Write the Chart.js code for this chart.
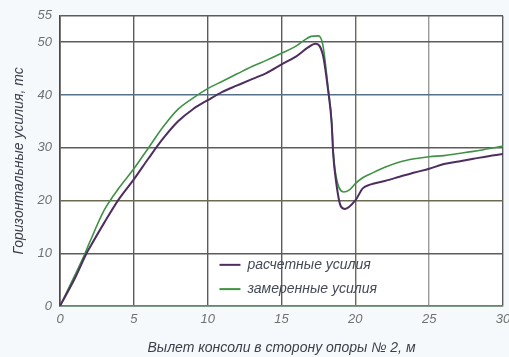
<!DOCTYPE html>
<html>
<head>
<meta charset="utf-8">
<script src="https://cdn.jsdelivr.net/npm/chart.js@4.4.1/dist/chart.umd.min.js"></script>
<style>
  html, body { margin: 0; padding: 0; background: #f6f9fb; }
  canvas { display: block; }
</style>
</head>
<body>
<canvas id="chart" width="509" height="357"></canvas>
<script>
// расчетные усилия
const xCalc = [0, 1, 1.8, 2, 3, 4, 5, 6, 7, 8, 9, 10, 11, 12, 13, 14, 15, 16, 16.8, 17.3, 17.8, 18.15, 18.4, 18.5, 18.7, 19, 19.3, 20, 20.5, 21, 22, 23, 24, 25, 26, 27, 28, 29, 30];
const yCalc = [0, 5.2, 10, 11, 15.8, 20.3, 24, 28, 31.8, 35, 37.3, 39, 40.6, 41.8, 43, 44.2, 45.8, 47.3, 49, 49.7, 47.6, 41, 34.5, 28.8, 23.5, 19, 18.4, 20, 22.3, 23, 23.7, 24.5, 25.3, 26, 26.9, 27.4, 27.9, 28.4, 28.8];
// замеренные усилия
const xMeas = [0, 1, 1.7, 2, 3, 4, 5, 6, 7, 8, 9, 10, 11, 12, 13, 14, 15, 16, 16.5, 17, 17.5, 17.8, 18.15, 18.4, 18.5, 18.7, 19.2, 19.6, 20, 20.5, 21, 22, 23, 24, 25, 26, 27, 28, 29, 30];
const yMeas = [0, 5.8, 10, 12, 18.2, 22.4, 26, 30, 34, 37.3, 39.4, 41.2, 42.6, 44, 45.4, 46.6, 47.9, 49.3, 50.3, 51.1, 51.2, 49.5, 41.5, 35, 29.5, 24.5, 21.6, 22, 23.2, 24.3, 25, 26.3, 27.3, 27.9, 28.3, 28.5, 28.9, 29.3, 29.8, 30.3];

const seriesNames = ['расчетные усилия', 'замеренные усилия'];
const yTicks = [0, 10, 20, 30, 40, 50, 55];
const xTicks = [0, 5, 10, 15, 20, 25, 30];

const toPoints = (xs, ys) => xs.map((x, i) => ({ x: x, y: ys[i] }));

// white plot area
const plotBg = {
  id: 'plotBg',
  beforeDraw(chart) {
    const a = chart.chartArea, ctx = chart.ctx;
    ctx.save();
    ctx.fillStyle = '#ffffff';
    ctx.fillRect(a.left, a.top, a.right - a.left, a.bottom - a.top);
    ctx.restore();
  }
};

// legend sits inside the plot, near the bottom
const innerLegend = {
  id: 'innerLegend',
  afterDatasetsDraw(chart) {
    const ctx = chart.ctx;
    const xs = chart.scales.x, ys = chart.scales.y;
    ctx.save();
    ctx.font = 'italic 14px "Liberation Sans", Arial, sans-serif';
    ctx.textBaseline = 'middle';
    chart.data.datasets.forEach((ds, i) => {
      const y = ys.getPixelForValue(7.8 - i * 4.6);
      const x0 = xs.getPixelForValue(10.8);
      ctx.strokeStyle = ds.borderColor;
      ctx.lineWidth = 2;
      ctx.beginPath();
      ctx.moveTo(x0, y);
      ctx.lineTo(x0 + 21, y);
      ctx.stroke();
      ctx.fillStyle = '#444a55';
      ctx.fillText(ds.label, x0 + 28, y);
    });
    ctx.restore();
  }
};

const gridColor = (ctx) => {
  const v = ctx.tick ? ctx.tick.value : null;
  if (v === 40) return '#56708a';
  if (v === 20) return '#6b6a52';
  if (v === 25) return '#9a9a9a';
  return '#5c5c5c';
};

const fontFam = '"Liberation Sans", Arial, sans-serif';

new Chart(document.getElementById('chart'), {
  type: 'line',
  data: {
    datasets: [
      {
        label: seriesNames[0],
        data: toPoints(xCalc, yCalc),
        borderColor: '#4e2e60',
        borderWidth: 2,
        pointRadius: 0,
        cubicInterpolationMode: 'monotone'
      },
      {
        label: seriesNames[1],
        data: toPoints(xMeas, yMeas),
        borderColor: '#3f9245',
        borderWidth: 1.6,
        pointRadius: 0,
        cubicInterpolationMode: 'monotone'
      }
    ]
  },
  options: {
    responsive: false,
    animation: false,
    layout: { padding: { top: 14, right: 6, left: 0, bottom: 0 } },
    plugins: {
      legend: { display: false },
      tooltip: { enabled: false }
    },
    scales: {
      x: {
        type: 'linear',
        min: 0,
        max: 30,
        afterBuildTicks: (s) => { s.ticks = xTicks.map(v => ({ value: v })); },
        afterFit: (s) => { s.height = 51; s.paddingLeft = 0; s.paddingRight = 0; },
        grid: { color: gridColor, lineWidth: 1.4, drawTicks: false },
        border: { color: '#5d8c68', width: 1.6 },
        ticks: {
          padding: 6,
          color: '#707070',
          font: { family: fontFam, size: 13, style: 'italic' }
        },
        title: {
          display: true,
          text: 'Вылет консоли в сторону опоры № 2, м',
          color: '#3b3f4a',
          padding: { top: 3, bottom: 0 },
          font: { family: fontFam, size: 14, style: 'italic' }
        }
      },
      y: {
        min: 0,
        max: 55,
        afterBuildTicks: (s) => { s.ticks = yTicks.map(v => ({ value: v })); },
        afterFit: (s) => { s.width = 60; },
        grid: { color: gridColor, lineWidth: 1.4, drawTicks: false },
        border: { color: '#4a4a4a', width: 1.6 },
        ticks: {
          padding: 8,
          color: '#707070',
          font: { family: fontFam, size: 13, style: 'italic' }
        },
        title: {
          display: true,
          text: 'Горизонтальные усилия, тс',
          color: '#3b3f4a',
          padding: { top: 11, bottom: 0 },
          font: { family: fontFam, size: 14, style: 'italic' }
        }
      }
    }
  },
  plugins: [plotBg, innerLegend]
});
</script>
</body>
</html>
